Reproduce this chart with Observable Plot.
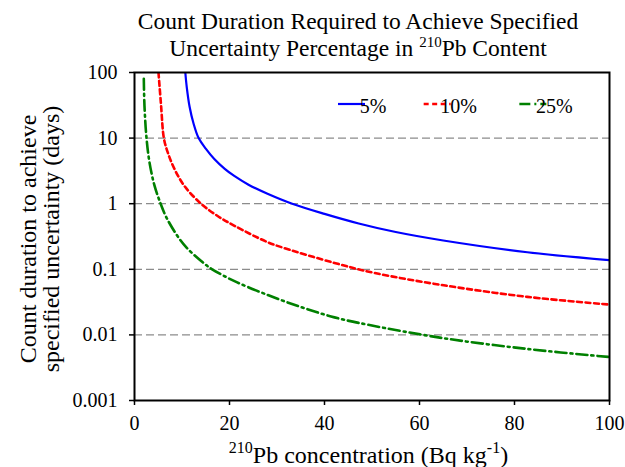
<!DOCTYPE html>
<html><head><meta charset="utf-8">
<script src="https://cdn.jsdelivr.net/npm/d3@7"></script>
<script src="https://cdn.jsdelivr.net/npm/@observablehq/plot@0.6"></script>
<style>body{margin:0;background:#fff} #chart{width:625px;height:467px}</style>
</head><body><div id="chart"></div>
<script>
// ---- data ----
const seriesNames = ["5%", "10%", "25%"];
const seriesColors = ["#0000ff", "#ff0000", "#008000"];
const seriesDashes = [null, "5,3.5", "11,4,2,4"];

const conc5 = [10.7, 11.0, 11.6, 12.4, 13.5, 15.0, 16.8, 19.0, 21.0, 24.0, 28.0, 33.2, 40.0, 47.2, 55.0, 65.0, 82.7, 100];
const days5 = [100, 60, 30, 17, 10, 6.9, 4.8, 3.4, 2.65, 1.95, 1.42, 1.0, 0.70, 0.50, 0.37, 0.275, 0.182, 0.138];

const conc10 = [5.05, 5.6, 6.18, 7.0, 8.42, 10.5, 14.0, 17.5, 21.05, 28.07, 31.6, 42.1, 50.5, 65.1, 82.7, 100];
const days10 = [100, 31, 10, 6.05, 3.37, 1.87, 1.0, 0.65, 0.46, 0.258, 0.21, 0.125, 0.088, 0.057, 0.038, 0.029];

const conc25 = [1.96, 2.1, 2.53, 3.16, 4.2, 5.5, 6.8, 9.47, 11.2, 14.7, 16.35, 21.05, 28.07, 35.1, 42.1, 49.1, 65.1, 82.7, 100];
const days25 = [80, 31, 10, 4.25, 1.9, 1.0, 0.6, 0.29, 0.205, 0.122, 0.1, 0.066, 0.0405, 0.0265, 0.0185, 0.0143, 0.0089, 0.0061, 0.0046];

const xTicks = [0, 20, 40, 60, 80, 100];
const yTicks = [0.001, 0.01, 0.1, 1, 10, 100];
const gridTicks = [0.01, 0.1, 1, 10];

const titleLine1 = "Count Duration Required to Achieve Specified";
const titleLine2a = "Uncertainty Percentage in ";
const isotope = "210";
const titleLine2b = "Pb Content";
const xLabelMain = "Pb concentration (Bq kg";
const xLabelSup = "-1";
const yLabelLine1 = "Count duration to achieve";
const yLabelLine2 = "specified uncertainty (days)";

// ---- build table ----
const concs = [conc5, conc10, conc25];
const daysAll = [days5, days10, days25];
const rows = seriesNames.flatMap((s, i) => concs[i].map((c, j) => ({series: s, c, d: daysAll[i][j]})));

const FONT = "'Liberation Serif', 'Times New Roman', serif";

const chart = Plot.plot({
  width: 625, height: 467,
  marginLeft: 134, marginRight: 16, marginTop: 72, marginBottom: 67,
  style: {fontFamily: FONT, fontSize: "20px", background: "white", color: "black"},
  x: {domain: [0, 100]},
  y: {type: "log", domain: [0.001, 100]},
  marks: [
    Plot.ruleY(gridTicks, {stroke: "#8c8c8c", strokeWidth: 1.2, strokeDasharray: "8,4"}),
    ...seriesNames.map((s, i) => Plot.line(rows.filter(r => r.series === s), {
      x: "c", y: "d", stroke: seriesColors[i], strokeWidth: i === 0 ? 2.2 : 2.6,
      strokeDasharray: seriesDashes[i], curve: "catmull-rom", clip: true
    })),
    Plot.frame({stroke: "black", strokeWidth: 2}),
    Plot.axisX(xTicks, {tickSize: 5, tickPadding: 10, fontSize: 20, label: null, strokeWidth: 1.5}),
    Plot.axisY(yTicks, {tickSize: 5, tickPadding: 12, fontSize: 20, label: null, strokeWidth: 1.5, tickFormat: d => String(d)})
  ]
});
document.getElementById("chart").appendChild(chart);

// ---- text annotations ----
const svg = d3.select(chart);
const xs = chart.scale("x"), ys = chart.scale("y");
const plotLeft = xs.range[0], plotRight = xs.range[1];
const plotTop = ys.range[1], plotBottom = ys.range[0];

svg.append("text").attr("x", 358).attr("y", 29).attr("text-anchor", "middle")
  .attr("font-size", 23.5).attr("fill", "black").text(titleLine1);
const t2 = svg.append("text").attr("x", 358).attr("y", 56).attr("text-anchor", "middle")
  .attr("font-size", 23.5).attr("fill", "black");
t2.append("tspan").text(titleLine2a);
t2.append("tspan").attr("font-size", 15).attr("dy", -9).text(isotope);
t2.append("tspan").attr("dy", 9).text(titleLine2b);

const xl = svg.append("text").attr("x", (plotLeft + plotRight) / 2 - 3).attr("y", 463).attr("text-anchor", "middle")
  .attr("font-size", 24).attr("fill", "black");
xl.append("tspan").attr("font-size", 16).attr("dy", -10).text(isotope);
xl.append("tspan").attr("dy", 10).text(xLabelMain);
xl.append("tspan").attr("font-size", 16).attr("dy", -10).text(xLabelSup);
xl.append("tspan").attr("dy", 10).text(")");

const yc = (plotTop + plotBottom) / 2 + 3;
[[yLabelLine1, 36], [yLabelLine2, 59]].forEach(([txt, bx]) => {
  svg.append("text").attr("transform", `translate(${bx},${yc}) rotate(-90)`).attr("text-anchor", "middle")
    .attr("font-size", 24).attr("fill", "black").text(txt);
});

// legend
const lg = svg.append("g").attr("font-size", 20);
let lx = 338;
const ly = 104;
seriesNames.forEach((s, i) => {
  lg.append("line").attr("x1", lx).attr("x2", lx + 27).attr("y1", ly).attr("y2", ly)
    .attr("stroke", seriesColors[i]).attr("stroke-width", i === 0 ? 2.2 : 2.6)
    .attr("stroke-dasharray", seriesDashes[i]);
  const t = lg.append("text").attr("x", lx + 35).attr("y", ly + 9).attr("fill", "black")
    .style("font-family", FONT).text(s);
  lx = lx + 35 + t.node().getComputedTextLength() + 24;
});

// serif face on every text element
svg.selectAll("text, tspan").style("font-family", FONT);
</script>
</body></html>
